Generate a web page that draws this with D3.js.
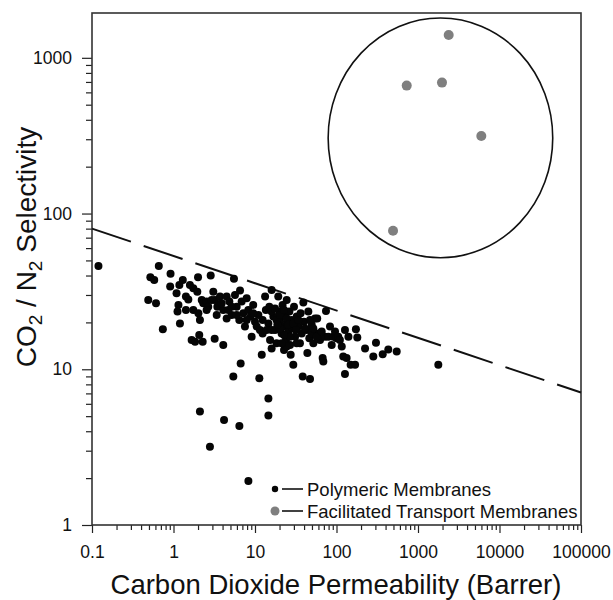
<!DOCTYPE html>
<html><head><meta charset="utf-8">
<script src="https://cdn.jsdelivr.net/npm/d3@7"></script>
<style>body{margin:0;background:#fff} text{font-family:"Liberation Sans",Arial,sans-serif;fill:#111}</style>
</head><body><svg id="c" width="613" height="600"></svg>
<script>
const xTickValues=[0.1,1,10,100,1000,10000,100000];
const xTickLabels=["0.1","1","10","100","1000","10000","100000"];
const yTickValues=[1,10,100,1000];
const yTickLabels=["1","10","100","1000"];
const xTitle="Carbon Dioxide Permeability (Barrer)";
const seriesNames=["Polymeric Membranes","Facilitated Transport Membranes"];
const seriesColors=["#050505","#7f7f7f"];

// [CO2 permeability (Barrer), CO2/N2 selectivity]
const polymeric=[
[0.12,46],[0.66,46],[0.52,39],[0.58,37.5],[0.92,41],[0.49,27.9],[0.61,26.5],[0.91,34],[1.09,30.8],[1.18,34.8],
[1.30,37.5],[1.15,25.9],[1.12,23.5],[0.74,18.1],[1.20,19.7],[1.42,29.3],[1.52,28.1],[1.59,34.8],[1.75,33.1],[1.42,24],
[1.75,24],[2.02,22.9],[2.11,20.7],[2.0,39],[1.96,31.5],[2.22,27.9],[2.32,26.5],[2.55,27.2],[2.67,25.2],[2.86,40],
[3.08,31.5],[3.23,27.9],[3.39,22.3],[3.45,25.2],[1.67,15.4],[1.84,15.0],[2.07,16.6],[2.28,15.0],[3.20,15.7],[4.08,14.3],
[3.72,29.3],[4.49,29.3],[4.08,24],[4.49,21.2],[4.84,27.2],[5.17,22.3],[5.52,38.2],[5.68,30],[5.96,25.2],[6.42,20.7],
[6.55,32],[6.86,27.2],[7.19,22.9],[7.53,18.8],[7.9,28.6],[8.28,24],[8.85,21.8],[9.1,16.2],[9.5,25.9],[10,20.2],
[11,22.3],[11.5,17.9],[12.1,12.4],[12.4,17],[13.3,29.3],[13.6,24],[14.6,19.7],[15,25.2],[15.3,15.4],[16,32.3],
[16,13.6],[16.8,21.8],[17.6,17.9],[18.4,14.7],[19.3,29.3],[19.9,23.5],[20.3,20.2],[21.2,17],[21.8,25.9],[22.3,18.8],
[22.7,13.3],[23.3,21.8],[24,15.4],[24.5,27.9],[24.9,19.7],[25.6,17.5],[26.4,23.5],[26.9,14.3],[27.4,12.4],[28.2,20.7],
[29,18.3],[29.5,10.7],[30.1,25.2],[31,16.2],[32.5,21.8],[34,18.8],[35.6,14.7],[37.4,17],[39.2,26.8],[39.9,20.2],
[43,17.9],[43.9,12.7],[45.1,23.5],[46.4,15.8],[49.6,19.3],[52,14.7],[54.5,21.2],[58,21.2],[59.8,17],[62.8,15.4],
[67.6,11.8],[68.9,11.2],[72.2,16.2],[74.3,23.7],[79.4,16.2],[83.2,18.8],[87.3,14.3],[91.4,16.2],[95.9,17.5],[100,15.8],
[105,16.2],[110,15.4],[116,14],[121,12.1],[127,17.9],[133,11.8],[140,16.2],[149,10.7],[169,10.7],[173,18.1],
[180,16],[224,13.6],[283,12.1],[305,14.8],
[6.67,10.9],[5.42,9.0],[11.3,8.75],[14.6,6.5],[14.6,5.04],[38.5,9.0],[47.3,8.67],[127,9.33],[2.11,5.35],[4.17,4.72],
[6.43,4.32],[2.8,3.18],[8.3,1.92],[369,12.5],[432,13.4],[548,13],[1775,10.7],
[16,23.5],[17.6,24.6],[18.4,20.7],[20.3,22.3],[22.7,24],[24.5,21.2],[25.6,19.3],[26.9,16.2],[22.7,16.6],[20.3,18.3],
[18.8,19.3],[29.5,19.7],[31.8,17.9],[34,20.7],[36.3,22.9],[41,18.3],[47.3,20.7],[49.6,17],[32.5,14.7],[24.5,14],
[21.2,14.7],[13.9,17.9],[12.4,20.7],[10.5,18.8],[9.5,22.9],[7.9,20.7],[5.96,22.3],[4.71,24],[3.9,26.5],[5.17,25.2],
[2.94,27.9],[2.55,24],[16,17.9],[52,18.3],[57.2,16.2],[65.8,17.5]
];
const facilitated=[[2380,1403],[727,663],[1970,693],[5980,315],[494,77.6]];

// upper-bound dashed line endpoints and enclosing ellipse extent (data units)
const boundX=[0.1,100000], boundY=[80,7.1];
const enclosureX=[79,45000], enclosureY=[52,1800];

const svg=d3.select("#c");
const x=d3.scaleLog().domain([0.1,1e5]).range([92,581]);
const y=d3.scaleLog().domain([1,1940]).range([525,13]);

const xMinor=[]; for(let e=-1;e<5;e++) for(let m=2;m<10;m++) xMinor.push(m*Math.pow(10,e));
const yMinor=[]; for(let e=0;e<4;e++) for(let m=2;m<10;m++){const v=m*Math.pow(10,e); if(v<1940) yMinor.push(v);}

function styleAxis(g){g.select(".domain").remove(); g.selectAll("line").attr("stroke","#222").attr("stroke-width",1.2);}

svg.append("g").attr("transform","translate(0,525)")
  .call(d3.axisBottom(x).tickValues(xMinor).tickSize(5).tickFormat("")).call(styleAxis);
svg.append("g").attr("transform","translate(0,525)")
  .call(d3.axisBottom(x).tickValues(xTickValues).tickSize(8).tickPadding(13).tickFormat((d,i)=>xTickLabels[i]))
  .call(styleAxis).call(g=>g.selectAll("text").attr("font-size",17.5).attr("font-family",null).attr("fill","#111"));
svg.append("g").attr("transform","translate(92,0)")
  .call(d3.axisLeft(y).tickValues(yMinor).tickSize(6).tickFormat("")).call(styleAxis);
svg.append("g").attr("transform","translate(92,0)")
  .call(d3.axisLeft(y).tickValues(yTickValues).tickSize(10).tickPadding(10).tickFormat((d,i)=>yTickLabels[i]))
  .call(styleAxis).call(g=>g.selectAll("text").attr("font-size",17.5).attr("font-family",null).attr("fill","#111"));

// frame
svg.append("rect").attr("x",x.range()[0]).attr("y",y.range()[1])
  .attr("width",x.range()[1]-x.range()[0]).attr("height",y.range()[0]-y.range()[1])
  .attr("fill","none").attr("stroke","#333").attr("stroke-width",1.6);

// dashed bound line
svg.append("path").datum(boundX.map((v,i)=>[v,boundY[i]]))
  .attr("d",d3.line().x(d=>x(d[0])).y(d=>y(d[1])))
  .attr("fill","none").attr("stroke","#111").attr("stroke-width",2).attr("stroke-dasharray","41,13.5");

// ellipse
svg.append("ellipse")
  .attr("cx",(x(enclosureX[0])+x(enclosureX[1]))/2).attr("cy",(y(enclosureY[0])+y(enclosureY[1]))/2)
  .attr("rx",(x(enclosureX[1])-x(enclosureX[0]))/2).attr("ry",(y(enclosureY[0])-y(enclosureY[1]))/2)
  .attr("fill","none").attr("stroke","#111").attr("stroke-width",1.6);

svg.append("g").selectAll("circle").data(polymeric).join("circle")
  .attr("cx",d=>x(d[0])).attr("cy",d=>y(d[1])).attr("r",4).attr("fill",seriesColors[0]);
svg.append("g").selectAll("circle").data(facilitated).join("circle")
  .attr("cx",d=>x(d[0])).attr("cy",d=>y(d[1])).attr("r",5).attr("fill",seriesColors[1]);

// legend
const leg=svg.append("g");
seriesNames.forEach((name,i)=>{
  const cy=489+i*22;
  leg.append("circle").attr("cx",275).attr("cy",cy).attr("r",i===0?3.2:4.5).attr("fill",seriesColors[i]);
  leg.append("line").attr("x1",282).attr("x2",303).attr("y1",cy).attr("y2",cy).attr("stroke","#111").attr("stroke-width",1.6);
  leg.append("text").attr("x",307).attr("y",cy).attr("dy","0.36em").attr("font-size",18.5).text(name);
});

// axis titles
svg.append("text").attr("x",336).attr("y",594).attr("text-anchor","middle").attr("font-size",27.5).text(xTitle);
const yt=svg.append("text").attr("transform","translate(36,247) rotate(-90)").attr("text-anchor","middle").attr("font-size",28);
yt.append("tspan").text("CO");
yt.append("tspan").attr("font-size",19).attr("dy",6).text("2");
yt.append("tspan").attr("dy",-6).text(" / N");
yt.append("tspan").attr("font-size",19).attr("dy",6).text("2");
yt.append("tspan").attr("dy",-6).text(" Selectivity");
</script></body></html>
